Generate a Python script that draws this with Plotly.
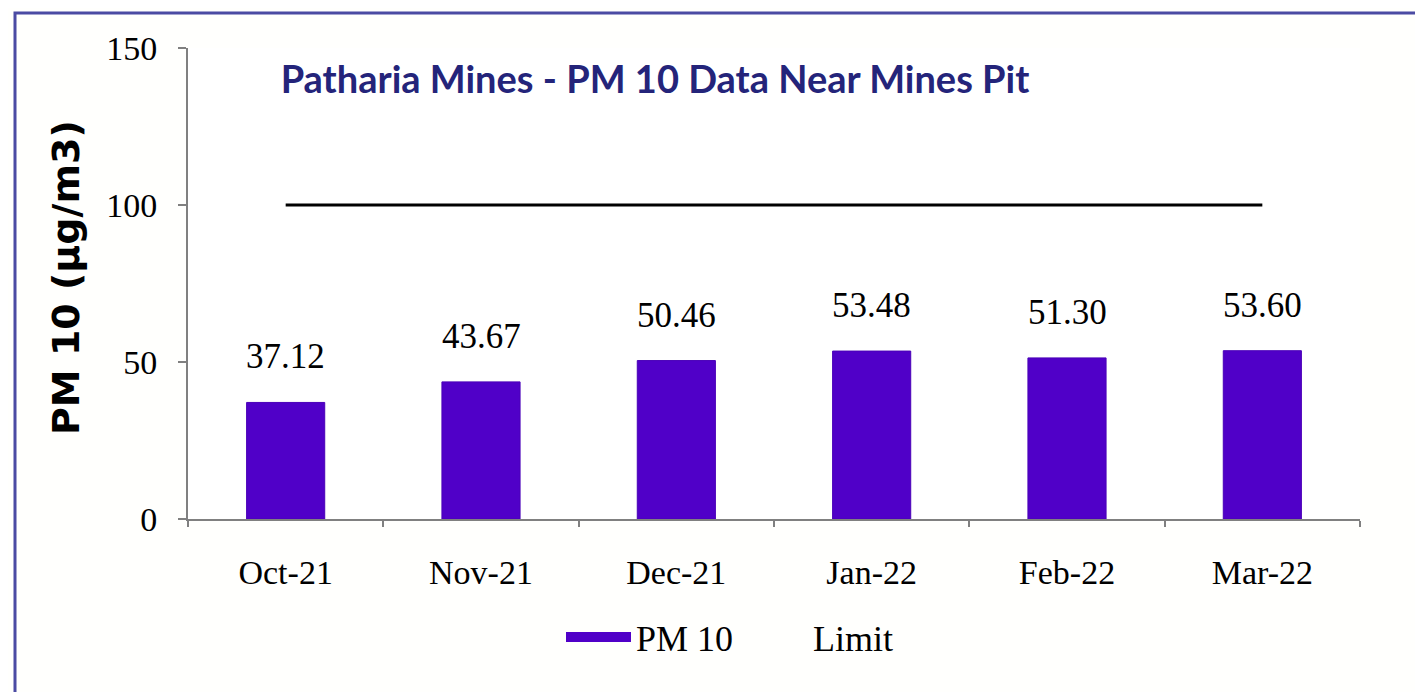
import plotly.graph_objects as go

months = ["Oct-21", "Nov-21", "Dec-21", "Jan-22", "Feb-22", "Mar-22"]
pm10 = [37.12, 43.67, 50.46, 53.48, 51.30, 53.60]
limit = [100, 100, 100, 100, 100, 100]
y_ticks = [0, 50, 100, 150]

OFF = 8  # browser body margin
W, H = 1423 - OFF, 692 - OFF
L, R, T, B = 188 - OFF, 63, 48 - OFF, 173
pw, ph = W - L - R, H - T - B

def px_x(x):
    return (x - OFF - L) / pw

def px_y(y):
    return (H - B - (y - OFF)) / ph

serif = "Liberation Serif, Times New Roman, serif"
purple = "#5000C8"

fig = go.Figure()
fig.add_trace(go.Bar(
    x=months, y=pm10, name="PM 10", showlegend=False,
    marker=dict(color=purple, line=dict(color="#4A00B8", width=1)),
))
fig.add_trace(go.Scatter(
    x=months, y=limit, mode="lines", name="Limit",
    line=dict(color="black", width=3), showlegend=False,
))
# legend entries
fig.add_trace(go.Scatter(
    x=[months[0]], y=[None], mode="lines", name="PM 10",
    line=dict(color=purple, width=20),
))
fig.add_trace(go.Scatter(
    x=[months[0]], y=[None], mode="lines", name="Limit",
    line=dict(color="rgba(0,0,0,0)", width=3),
))

for m, v in zip(months, pm10):
    fig.add_annotation(x=m, y=v, text=f"{v:.2f}", showarrow=False,
                       yanchor="bottom", yshift=24,
                       font=dict(family=serif, size=35, color="black"))

fig.add_annotation(xref="paper", yref="paper", x=px_x(66), y=px_y(278),
                   text="<b>PM 10 (µg/m3)</b>", textangle=-90, showarrow=False,
                   xanchor="center", yanchor="middle",
                   font=dict(family="DejaVu Sans, Verdana, sans-serif", size=38, color="black"))

# outer border
fig.add_shape(type="rect", xref="paper", yref="paper",
              x0=px_x(15), x1=px_x(1440), y0=px_y(700), y1=px_y(13),
              line=dict(color="#4B4BA3", width=3), fillcolor="rgba(0,0,0,0)", layer="below")

fig.update_layout(
    width=W, height=H,
    margin=dict(l=L, r=R, t=T, b=B),
    paper_bgcolor="#FFFFFD",
    plot_bgcolor="white",
    bargap=0.6,
    title=dict(text="<b>Patharia Mines - PM 10 Data Near Mines Pit</b>",
               x=(655 - OFF) / W, xref="container", xanchor="center",
               y=1 - (80 - OFF) / H, yref="container", yanchor="middle",
               font=dict(family="Lato, Calibri, sans-serif", size=38, color="#24247A")),
    xaxis=dict(
        range=[-0.5, 5.5], showline=True, linecolor="#808080", linewidth=2,
        ticks="outside", tickson="boundaries", ticklen=6, tickcolor="#808080", tickwidth=2,
        tickfont=dict(family=serif, size=34, color="black"), showgrid=False,
        ticklabelstandoff=22,
    ),
    yaxis=dict(
        range=[0, 150], tickvals=y_ticks, showline=True, linecolor="#808080", linewidth=2,
        ticks="outside", ticklen=8, tickcolor="#808080", tickwidth=2,
        tickfont=dict(family=serif, size=34, color="black"), showgrid=False, zeroline=False,
        ticklabelstandoff=14,
    ),
    legend=dict(orientation="h", x=px_x(730), y=px_y(637), xanchor="center", yanchor="middle",
                font=dict(family=serif, size=36, color="black"), bgcolor="rgba(0,0,0,0)",
                itemwidth=65, tracegroupgap=0),
    showlegend=True,
)

fig.write_html("out.html")
